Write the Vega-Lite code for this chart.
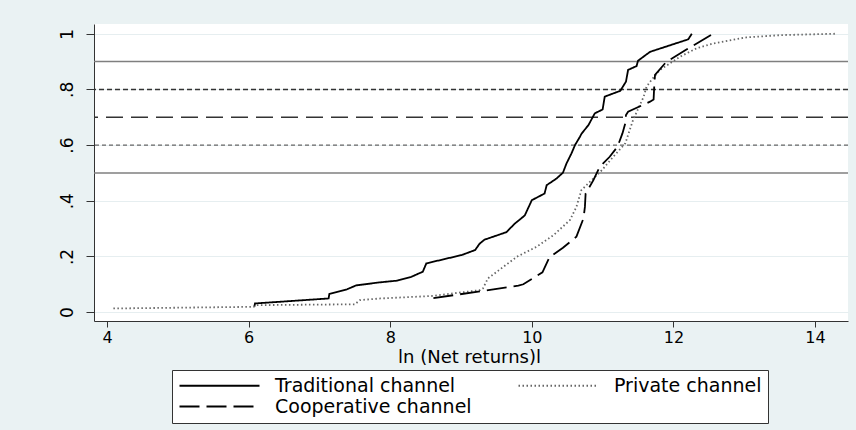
{
  "$schema": "https://vega.github.io/schema/vega-lite/v6.json",
  "width": 754,
  "height": 297,
  "autosize": {"type": "none"},
  "padding": {"left": 94, "top": 24, "right": 8, "bottom": 109},
  "background": "#EAF2F3",
  "config": {
    "font": "DejaVu Sans",
    "view": {"fill": "white", "stroke": null},
    "axisX": {
      "grid": false, "domainColor": "#333", "tickColor": "#333", "tickSize": 6,
      "labelFontSize": 16, "labelColor": "black", "labelPadding": 2,
      "titleFontSize": 18, "titleFontWeight": "normal", "titleColor": "black",
      "titleX": 375, "titleY": 36, "titleAlign": "center", "titleBaseline": "middle"
    },
    "axisY": {
      "grid": true, "gridColor": "#E6EEF0", "gridWidth": 1.2,
      "domainColor": "#333", "tickColor": "#333", "tickSize": 8,
      "labelFontSize": 17, "labelColor": "black", "labelPadding": 14,
      "labelAngle": 270, "labelAlign": "center", "labelBaseline": "alphabetic"
    }
  },
  "datasets": {
    "curves": [
      {"channel": "Traditional channel", "x": 6.08, "p": 0.019},
      {"channel": "Traditional channel", "x": 6.09, "p": 0.031},
      {"channel": "Traditional channel", "x": 7.13, "p": 0.049},
      {"channel": "Traditional channel", "x": 7.14, "p": 0.065},
      {"channel": "Traditional channel", "x": 7.39, "p": 0.082},
      {"channel": "Traditional channel", "x": 7.52, "p": 0.096},
      {"channel": "Traditional channel", "x": 7.86, "p": 0.107},
      {"channel": "Traditional channel", "x": 8.1, "p": 0.113},
      {"channel": "Traditional channel", "x": 8.3, "p": 0.127},
      {"channel": "Traditional channel", "x": 8.46, "p": 0.145},
      {"channel": "Traditional channel", "x": 8.51, "p": 0.175},
      {"channel": "Traditional channel", "x": 9.01, "p": 0.205},
      {"channel": "Traditional channel", "x": 9.2, "p": 0.223},
      {"channel": "Traditional channel", "x": 9.26, "p": 0.245},
      {"channel": "Traditional channel", "x": 9.33, "p": 0.26},
      {"channel": "Traditional channel", "x": 9.64, "p": 0.287},
      {"channel": "Traditional channel", "x": 9.76, "p": 0.318},
      {"channel": "Traditional channel", "x": 9.9, "p": 0.347},
      {"channel": "Traditional channel", "x": 10.0, "p": 0.402},
      {"channel": "Traditional channel", "x": 10.18, "p": 0.426},
      {"channel": "Traditional channel", "x": 10.21, "p": 0.456},
      {"channel": "Traditional channel", "x": 10.35, "p": 0.48},
      {"channel": "Traditional channel", "x": 10.44, "p": 0.501},
      {"channel": "Traditional channel", "x": 10.49, "p": 0.534},
      {"channel": "Traditional channel", "x": 10.56, "p": 0.57},
      {"channel": "Traditional channel", "x": 10.61, "p": 0.6},
      {"channel": "Traditional channel", "x": 10.68, "p": 0.63},
      {"channel": "Traditional channel", "x": 10.7, "p": 0.64},
      {"channel": "Traditional channel", "x": 10.8, "p": 0.672},
      {"channel": "Traditional channel", "x": 10.89, "p": 0.714},
      {"channel": "Traditional channel", "x": 11.0, "p": 0.728},
      {"channel": "Traditional channel", "x": 11.03, "p": 0.774},
      {"channel": "Traditional channel", "x": 11.25, "p": 0.795},
      {"channel": "Traditional channel", "x": 11.33, "p": 0.828},
      {"channel": "Traditional channel", "x": 11.36, "p": 0.87},
      {"channel": "Traditional channel", "x": 11.48, "p": 0.884},
      {"channel": "Traditional channel", "x": 11.5, "p": 0.903},
      {"channel": "Traditional channel", "x": 11.67, "p": 0.935},
      {"channel": "Traditional channel", "x": 12.21, "p": 0.98},
      {"channel": "Traditional channel", "x": 12.26, "p": 1.0},
      {"channel": "Private channel", "x": 4.09, "p": 0.013},
      {"channel": "Private channel", "x": 6.07, "p": 0.019},
      {"channel": "Private channel", "x": 6.11, "p": 0.025},
      {"channel": "Private channel", "x": 7.5, "p": 0.028},
      {"channel": "Private channel", "x": 7.57, "p": 0.043},
      {"channel": "Private channel", "x": 7.86, "p": 0.049},
      {"channel": "Private channel", "x": 8.6, "p": 0.058},
      {"channel": "Private channel", "x": 9.27, "p": 0.079},
      {"channel": "Private channel", "x": 9.31, "p": 0.085},
      {"channel": "Private channel", "x": 9.38, "p": 0.121},
      {"channel": "Private channel", "x": 9.79, "p": 0.199},
      {"channel": "Private channel", "x": 10.07, "p": 0.235},
      {"channel": "Private channel", "x": 10.31, "p": 0.277},
      {"channel": "Private channel", "x": 10.54, "p": 0.331},
      {"channel": "Private channel", "x": 10.63, "p": 0.378},
      {"channel": "Private channel", "x": 10.7, "p": 0.438},
      {"channel": "Private channel", "x": 10.87, "p": 0.48},
      {"channel": "Private channel", "x": 10.99, "p": 0.51},
      {"channel": "Private channel", "x": 11.15, "p": 0.558},
      {"channel": "Private channel", "x": 11.32, "p": 0.606},
      {"channel": "Private channel", "x": 11.43, "p": 0.69},
      {"channel": "Private channel", "x": 11.58, "p": 0.774},
      {"channel": "Private channel", "x": 11.62, "p": 0.81},
      {"channel": "Private channel", "x": 11.69, "p": 0.834},
      {"channel": "Private channel", "x": 11.81, "p": 0.87},
      {"channel": "Private channel", "x": 12.09, "p": 0.917},
      {"channel": "Private channel", "x": 12.33, "p": 0.948},
      {"channel": "Private channel", "x": 12.56, "p": 0.965},
      {"channel": "Private channel", "x": 13.03, "p": 0.987},
      {"channel": "Private channel", "x": 13.51, "p": 0.995},
      {"channel": "Private channel", "x": 14.28, "p": 1.0},
      {"channel": "Cooperative channel", "x": 8.61, "p": 0.05},
      {"channel": "Cooperative channel", "x": 9.81, "p": 0.095},
      {"channel": "Cooperative channel", "x": 9.88, "p": 0.1},
      {"channel": "Cooperative channel", "x": 10.15, "p": 0.143},
      {"channel": "Cooperative channel", "x": 10.25, "p": 0.197},
      {"channel": "Cooperative channel", "x": 10.44, "p": 0.231},
      {"channel": "Cooperative channel", "x": 10.63, "p": 0.271},
      {"channel": "Cooperative channel", "x": 10.73, "p": 0.337},
      {"channel": "Cooperative channel", "x": 10.75, "p": 0.378},
      {"channel": "Cooperative channel", "x": 10.76, "p": 0.426},
      {"channel": "Cooperative channel", "x": 10.87, "p": 0.474},
      {"channel": "Cooperative channel", "x": 10.96, "p": 0.522},
      {"channel": "Cooperative channel", "x": 11.1, "p": 0.558},
      {"channel": "Cooperative channel", "x": 11.21, "p": 0.594},
      {"channel": "Cooperative channel", "x": 11.28, "p": 0.642},
      {"channel": "Cooperative channel", "x": 11.32, "p": 0.678},
      {"channel": "Cooperative channel", "x": 11.33, "p": 0.708},
      {"channel": "Cooperative channel", "x": 11.36, "p": 0.72},
      {"channel": "Cooperative channel", "x": 11.67, "p": 0.756},
      {"channel": "Cooperative channel", "x": 11.72, "p": 0.764},
      {"channel": "Cooperative channel", "x": 11.73, "p": 0.816},
      {"channel": "Cooperative channel", "x": 11.74, "p": 0.852},
      {"channel": "Cooperative channel", "x": 11.9, "p": 0.899},
      {"channel": "Cooperative channel", "x": 12.19, "p": 0.944},
      {"channel": "Cooperative channel", "x": 12.56, "p": 1.0}
    ]
  },
  "layer": [
    {
      "data": {"values": [{"ref": 0.9}, {"ref": 0.5}]},
      "mark": {"type": "rule", "color": "#7f7f7f", "strokeWidth": 1.5},
      "encoding": {
        "y": {"field": "ref", "type": "quantitative", "title": null,
              "scale": {"domain": [-0.032, 1.035], "nice": false, "zero": false},
              "axis": {"values": [0, 0.2, 0.4, 0.6, 0.8, 1], "labelExpr": "datum.value == 0 ? '0' : datum.value == 1 ? '1' : replace(format(datum.value, '.1f'), '0.', '.')"}}
      }
    },
    {
      "data": {"values": [{"ref": 0.8}]},
      "mark": {"type": "rule", "color": "#333", "strokeWidth": 1.5, "strokeDash": [5, 3]},
      "encoding": {
        "y": {"field": "ref", "type": "quantitative", "title": null,
              "scale": {"domain": [-0.032, 1.035], "nice": false, "zero": false},
              "axis": {"values": [0, 0.2, 0.4, 0.6, 0.8, 1], "labelExpr": "datum.value == 0 ? '0' : datum.value == 1 ? '1' : replace(format(datum.value, '.1f'), '0.', '.')"}}
      }
    },
    {
      "data": {"values": [{"ref": 0.7}]},
      "mark": {"type": "rule", "color": "#333", "strokeWidth": 1.3, "strokeDash": [17, 8]},
      "encoding": {
        "y": {"field": "ref", "type": "quantitative", "title": null,
              "scale": {"domain": [-0.032, 1.035], "nice": false, "zero": false},
              "axis": {"values": [0, 0.2, 0.4, 0.6, 0.8, 1], "labelExpr": "datum.value == 0 ? '0' : datum.value == 1 ? '1' : replace(format(datum.value, '.1f'), '0.', '.')"}}
      }
    },
    {
      "data": {"values": [{"ref": 0.6}]},
      "mark": {"type": "rule", "color": "#666", "strokeWidth": 1.2, "strokeDash": [4, 3]},
      "encoding": {
        "y": {"field": "ref", "type": "quantitative", "title": null,
              "scale": {"domain": [-0.032, 1.035], "nice": false, "zero": false},
              "axis": {"values": [0, 0.2, 0.4, 0.6, 0.8, 1], "labelExpr": "datum.value == 0 ? '0' : datum.value == 1 ? '1' : replace(format(datum.value, '.1f'), '0.', '.')"}}
      }
    },
    {
      "data": {"name": "curves"},
      "mark": {"type": "line", "strokeWidth": 1.8},
      "encoding": {
        "x": {"field": "x", "type": "quantitative", "title": "ln (Net returns)l",
              "scale": {"domain": [3.816, 14.466], "nice": false, "zero": false},
              "axis": {"values": [4, 6, 8, 10, 12, 14]}},
        "y": {"field": "p", "type": "quantitative", "title": null,
              "scale": {"domain": [-0.032, 1.035], "nice": false, "zero": false},
              "axis": {"values": [0, 0.2, 0.4, 0.6, 0.8, 1], "labelExpr": "datum.value == 0 ? '0' : datum.value == 1 ? '1' : replace(format(datum.value, '.1f'), '0.', '.')"}},
        "color": {"field": "channel", "type": "nominal",
                  "scale": {"domain": ["Traditional channel", "Private channel", "Cooperative channel"], "range": ["#000000", "#666666", "#000000"]},
                  "legend": {"orient": "none", "legendX": 78, "legendY": 346, "direction": "horizontal", "columns": 2, "title": null,
                             "symbolType": "M-1,0H9", "symbolSize": 256, "symbolStrokeWidth": 1.8,
                             "labelFontSize": 19, "labelColor": "black", "labelOffset": 78, "labelLimit": 400,
                             "columnPadding": 42, "rowPadding": 1, "padding": 6,
                             "fillColor": "white", "strokeColor": "#333"}},
        "strokeDash": {"field": "channel", "type": "nominal",
                       "scale": {"domain": ["Traditional channel", "Private channel", "Cooperative channel"], "range": [[1, 0], [1.5, 2.5], [20, 7]]}},
        "order": {"field": "p", "type": "quantitative"}
      }
    }
  ]
}
